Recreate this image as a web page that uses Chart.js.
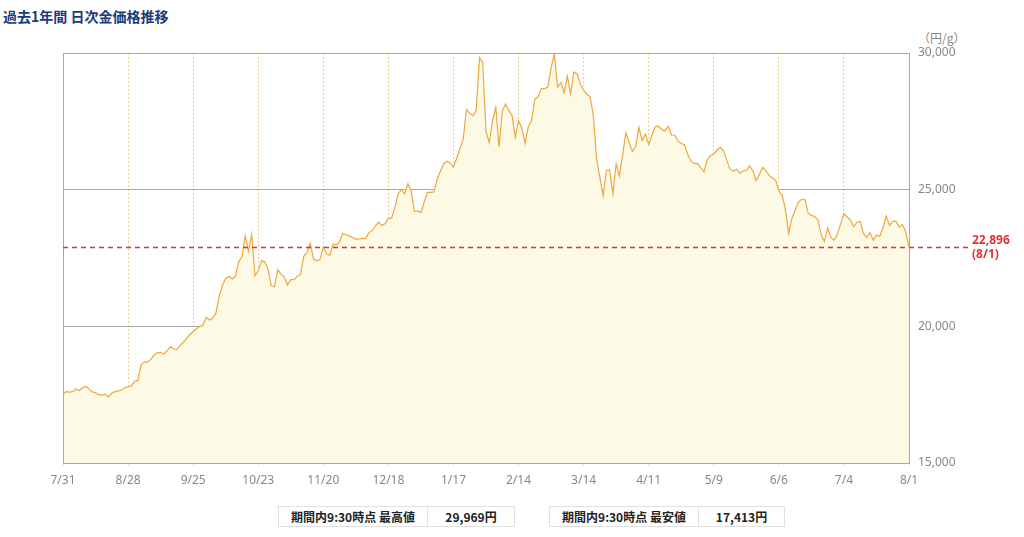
<!DOCTYPE html>
<html lang="ja">
<head>
<meta charset="utf-8">
<title>過去1年間 日次金価格推移</title>
<script src="https://cdn.jsdelivr.net/npm/chart.js@4.4.1/dist/chart.umd.min.js"></script>
<style>
  html, body { margin: 0; padding: 0; background: #fff; }
  body { width: 1024px; height: 537px; position: relative; overflow: hidden;
         font-family: "Noto Sans CJK JP", "Noto Sans", sans-serif; }
  #title { position: absolute; left: 3px; top: 6px; font-size: 14px; font-weight: bold; color: #1d3a78; }
  #unit { position: absolute; left: 918px; top: 29px; font-size: 12px; color: #888; }
  #chart { position: absolute; left: 0; top: 0; }
  table.stat { position: absolute; top: 506px; border-collapse: collapse; font-size: 12px; font-weight: bold; color: #222; }
  table.stat td { border: 1px solid #e0e0e0; height: 19px; padding: 0; text-align: center; }
</style>
</head>
<body>
<div id="title">過去1年間 日次金価格推移</div>
<div id="unit">（円/g）</div>
<canvas id="chart" width="1024" height="500"></canvas>
<table class="stat" style="left:278px">
  <tr><td style="width:148px">期間内9:30時点 最高値</td><td style="width:86px" id="maxVal"></td></tr>
</table>
<table class="stat" style="left:549px">
  <tr><td style="width:148px">期間内9:30時点 最安値</td><td style="width:85px" id="minVal"></td></tr>
</table>

<script>
// --- DATA ---
// x tick labels, one every 20 trading days
const tickLabels = ['7/31', '8/28', '9/25', '10/23', '11/20', '12/18', '1/17',
                    '2/14', '3/14', '4/11', '5/9', '6/6', '7/4', '8/1'];
const tickEvery = 20;

// daily price (円/g)
const prices = [
  17530, 17610, 17590, 17610, 17710, 17650, 17750, 17810, 17710, 17600,
  17570, 17500, 17480, 17520, 17413, 17560, 17610, 17640, 17660, 17760,
  17790, 17820, 17990, 18020, 18600, 18690, 18700, 18790, 18950, 19030,
  19050, 18990, 19110, 19250, 19180, 19150, 19300, 19420, 19560, 19700,
  19800, 19910, 20000, 20030, 20330, 20230, 20290, 20490, 21100, 21500,
  21750, 21830, 21730, 21830, 22360, 22550, 23310, 22750, 23370, 21850,
  22030, 22400, 22360, 22100, 21490, 21450, 22070, 21910, 21800, 21510,
  21710, 21710, 21830, 21910, 22560, 22710, 23040, 22460, 22400, 22450,
  22900, 22650, 22600, 23000, 22970, 23100, 23400, 23350, 23310, 23250,
  23190, 23200, 23220, 23210, 23420, 23500, 23680, 23810, 23690, 23760,
  23950, 23960, 24350, 24850, 25000, 24850, 25220, 24950, 24200, 24220,
  24160, 24550, 24900, 24900, 24920, 25380, 25680, 25950, 26040, 25980,
  25830, 26150, 26500, 26860, 27930, 27800, 27700, 27900, 29840, 29640,
  27140, 26720, 27500, 28020, 26560, 27870, 28140, 27900, 27720, 26920,
  27530, 27260, 26700, 27300, 27520, 28320, 28400, 28700, 28700, 28750,
  29450, 29969, 28750, 28920, 28550, 29150, 28500, 29300, 29250, 28850,
  28640, 28500, 28400, 27700, 26100, 25450, 24770, 25700, 25720, 24850,
  25950, 25500, 26300, 27080, 26720, 26400, 26590, 27280, 26800, 27030,
  26650, 27000, 27300, 27320, 27200, 27150, 27320, 27000, 26990, 26780,
  26700, 26640, 26290, 26050, 25950, 25960, 25800, 25650, 26100, 26250,
  26300, 26450, 26550, 26420, 26070, 25750, 25680, 25750, 25600, 25680,
  25700, 25870, 25700, 25340, 25550, 25820, 25700, 25520, 25430, 25350,
  24950, 24800, 24300, 23400, 23950, 24250, 24540, 24650, 24650, 24150,
  24060, 24020, 23900, 23350, 23110, 23600, 23250, 23150, 23380, 23750,
  24120, 24010, 23880, 23650, 23800, 23840, 23400, 23250, 23430, 23150,
  23340, 23290, 23600, 24040, 23690, 23840, 23850, 23620, 23720, 23450,
  22896
];

const yMin = 15000, yMax = 30000, yStep = 5000;

// --- BUILD ---
const labels = prices.map((_, i) => (i % tickEvery === 0 ? tickLabels[i / tickEvery] : ''));
const fmt = v => v.toLocaleString('en-US');

document.getElementById('maxVal').textContent = fmt(Math.max(...prices)) + '円';
document.getElementById('minVal').textContent = fmt(Math.min(...prices)) + '円';

// grey frame round the plot area + red dashed line for the latest price
const framePlugin = {
  id: 'frame',
  afterDatasetsDraw(chart) {
    const { ctx, chartArea: a, scales } = chart;
    ctx.save();
    ctx.strokeStyle = '#a8a8a8';
    ctx.lineWidth = 1;
    ctx.strokeRect(a.left + 0.5, a.top + 0.5, a.right - a.left, a.bottom - a.top);

    const last = prices[prices.length - 1];
    const y = Math.round(scales.y.getPixelForValue(last)) + 0.5;
    ctx.strokeStyle = '#e03333';
    ctx.lineWidth = 1.5;
    ctx.setLineDash([5, 4]);
    ctx.beginPath();
    ctx.moveTo(a.left, y);
    ctx.lineTo(970, y);
    ctx.stroke();
    ctx.setLineDash([]);

    ctx.fillStyle = '#e03333';
    ctx.font = 'bold 12px "Noto Sans", sans-serif';
    ctx.textAlign = 'left';
    ctx.textBaseline = 'middle';
    ctx.fillText(fmt(last), 972, y - 7);
    ctx.fillText('(' + tickLabels[tickLabels.length - 1] + ')', 972, y + 7);
    ctx.restore();
  }
};

new Chart(document.getElementById('chart'), {
  type: 'line',
  data: {
    labels: labels,
    datasets: [{
      data: prices,
      borderColor: '#f0a83c',
      borderWidth: 1.2,
      backgroundColor: '#fcf9e5',
      fill: 'start',
      pointRadius: 0,
      tension: 0
    }]
  },
  options: {
    responsive: false,
    animation: false,
    layout: { padding: { left: 63, top: 53, right: 0, bottom: 0 } },
    plugins: { legend: { display: false }, tooltip: { enabled: false } },
    scales: {
      x: {
        type: 'category',
        afterFit: s => { s.height = 37; },
        border: { display: false, dash: [2, 2] },
        grid: {
          color: '#ebd28a',
          lineWidth: 1,
          drawTicks: true,
          tickLength: 4,
          tickColor: '#ebd28a',
          tickBorderDash: [2, 2]
        },
        ticks: {
          autoSkip: false,
          maxRotation: 0,
          padding: 6,
          color: '#888',
          font: { size: 12, family: '"Noto Sans", sans-serif' },
          callback: function (v) {
            const l = this.getLabelForValue(v);
            return l === '' ? null : l;
          }
        }
      },
      y: {
        position: 'right',
        min: yMin,
        max: yMax,
        afterFit: s => { s.width = 115; },
        border: { display: false },
        grid: { color: '#aaaaaa', lineWidth: 1, drawTicks: false },
        ticks: {
          stepSize: yStep,
          padding: 9,
          color: '#888',
          font: { size: 12, family: '"Noto Sans", sans-serif' },
          callback: v => fmt(v)
        }
      }
    }
  },
  plugins: [framePlugin]
});
</script>
</body>
</html>
